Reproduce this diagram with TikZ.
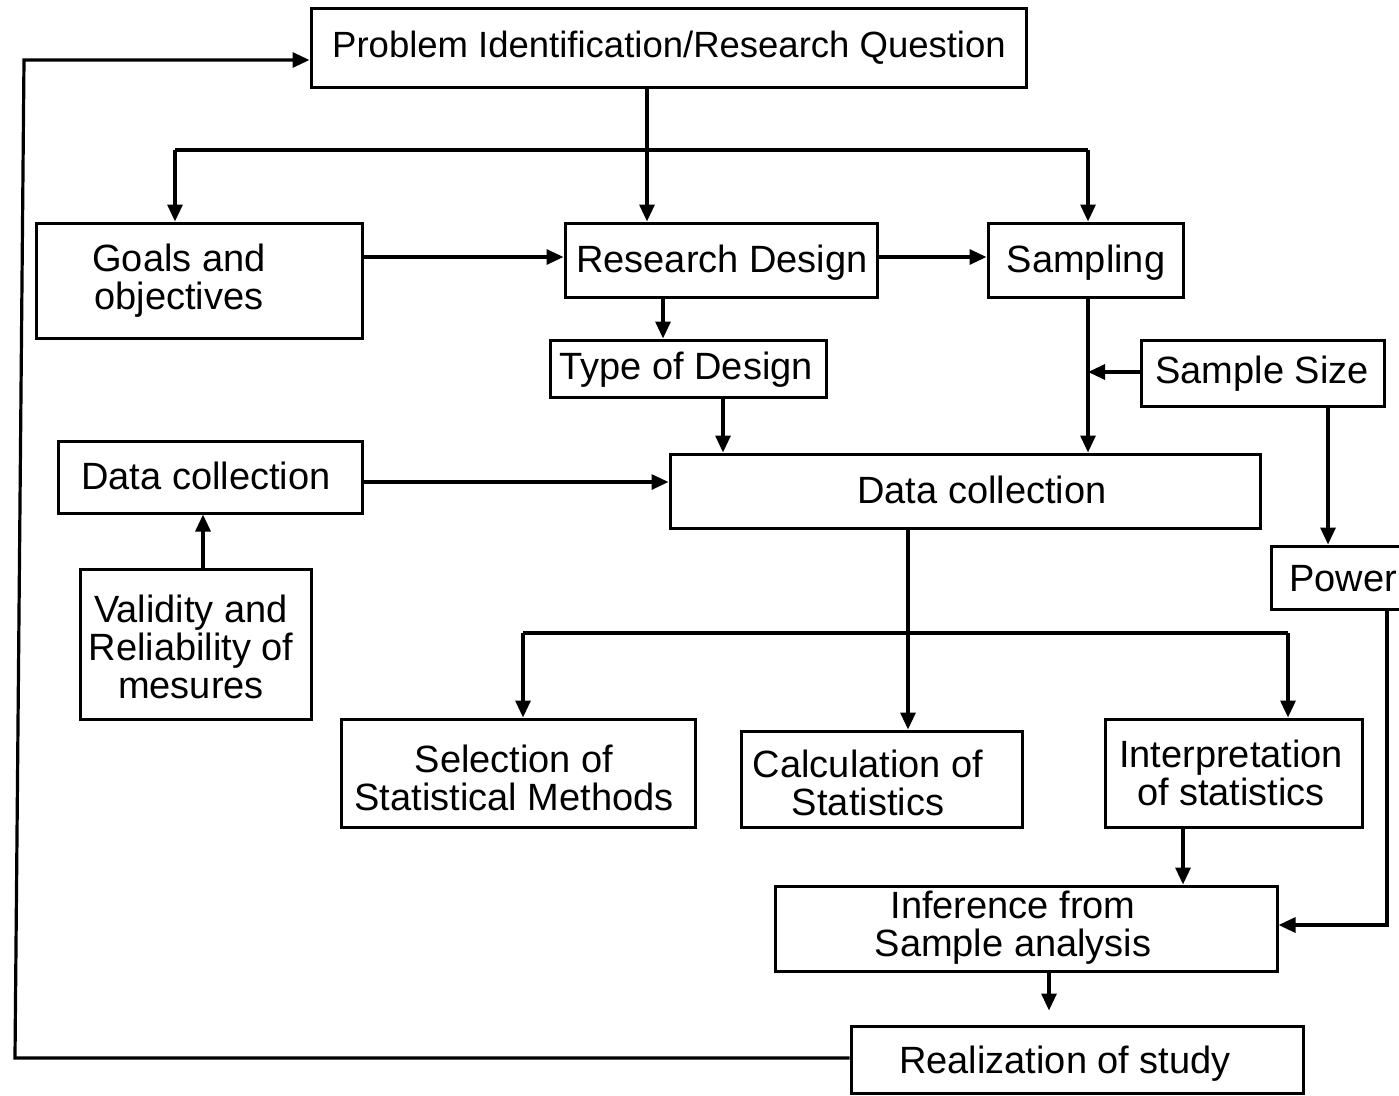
\documentclass[tikz,border=0pt]{standalone}
\usepackage{fontspec}
\setmainfont{Liberation Sans}
\usetikzlibrary{arrows.meta,fit}
\begin{document}
\begin{tikzpicture}[x=1pt,y=-1pt,
  box/.style={draw, line width=3pt, inner sep=0pt},
  txt/.style={font=\fontsize{38}{38}\selectfont, align=center, inner sep=0pt},
  one/.style={txt, text height=27pt, text depth=8pt},
  conn/.style={line width=3.2pt, -{Triangle[length=17pt,width=15pt]}},
  ln/.style={line width=3.2pt}]
\useasboundingbox (0,0) rectangle (1399,1095);
\fill[white] (0,0) rectangle (1399,1095);
% boxes
\node[box, fit={(311,8) (1026,87)}] (prob) {};
\node[box, fit={(36,223) (362,338)}] (goals) {};
\node[box, fit={(565,223) (877,297)}] (rd) {};
\node[box, fit={(988,223) (1183,297)}] (samp) {};
\node[box, fit={(550,340) (826,397)}] (tod) {};
\node[box, fit={(1141,340) (1384,406)}] (ss) {};
\node[box, fit={(58,441) (362,513)}] (dcl) {};
\node[box, fit={(670,454) (1260,528)}] (dcm) {};
\node[box, fit={(1271,546) (1420,609)}] (pow) {};
\node[box, fit={(80,569) (311,719)}] (val) {};
\node[box, fit={(341,719) (695,827)}] (sel) {};
\node[box, fit={(741,731) (1022,827)}] (calc) {};
\node[box, fit={(1105,719) (1362,827)}] (interp) {};
\node[box, fit={(775,886) (1277,971)}] (inf) {};
\node[box, fit={(851,1026) (1303,1093)}] (real) {};
% texts
\node[one, font=\fontsize{36.5}{38}\selectfont] (probT) at (669,48) {Problem Identification/Research Question};
\node[txt] (goalsT) at (179,281) {Goals and\\objectives};
\node[one] (rdT) at (722,263) {Research Design};
\node[one] (sampT) at (1086,263) {Sampling};
\node[one] (todT) at (686,370) {Type of Design};
\node[one] (ssT) at (1262,374) {Sample Size};
\node[one] (dclT) at (206,480) {Data collection};
\node[one] (dcmT) at (982,494) {Data collection};
\node[one] (powT) at (1343,582) {Power};
\node[txt] (valT) at (191,647) {Validity and\\Reliability of\\mesures};
\node[txt] (selT) at (514,778) {Selection of\\Statistical Methods};
\node[txt] (calcT) at (868,783) {Calculation of\\Statistics};
\node[txt] (interpT) at (1231,773) {Interpretation\\of statistics};
\node[txt] (infT) at (1013,928) {Inference from\\Sample analysis};
\node[one] (realT) at (1065,1064) {Realization of study};
% helper coordinates
\coordinate (split) at (647,150);
\coordinate (sL) at (175,150);
\coordinate (sR) at (1088,150);
\coordinate (r1) at (0,257);
\coordinate (c663) at (663,0);
\coordinate (c723) at (723,0);
\coordinate (r372) at (0,372);
\coordinate (c1328) at (1328,0);
\coordinate (c1387) at (1387,0);
\coordinate (r925) at (0,925);
\coordinate (r482) at (0,482);
\coordinate (c203) at (203,0);
\coordinate (c908) at (908,0);
\coordinate (bL) at (523,633);
\coordinate (bR) at (1288,633);
\coordinate (c1183) at (1183,0);
\coordinate (c1049) at (1049,0);
\coordinate (loopB) at (15,1058);
\coordinate (loopT) at (24,60);
% connectors
\draw[ln] (prob.south -| split) -- (split);
\draw[ln] (sL) -- (sR);
\draw[conn] (sL) -- (sL |- goals.north);
\draw[conn] (split) -- (split |- rd.north);
\draw[conn] (sR) -- (sR |- samp.north);
\draw[conn] (goals.east |- r1) -- (rd.west |- r1);
\draw[conn] (rd.east |- r1) -- (samp.west |- r1);
\draw[conn] (rd.south -| c663) -- (tod.north -| c663);
\draw[conn] (tod.south -| c723) -- (dcm.north -| c723);
\draw[conn] (samp.south -| sR) -- (dcm.north -| sR);
\draw[conn] (ss.west |- r372) -- (sR |- r372);
\draw[conn] (ss.south -| c1328) -- (pow.north -| c1328);
\draw[conn] (pow.south -| c1387) -- (c1387 |- r925) -- (inf.east |- r925);
\draw[conn] (dcl.east |- r482) -- (dcm.west |- r482);
\draw[conn] (val.north -| c203) -- (dcl.south -| c203);
\draw[conn] (dcm.south -| c908) -- (calc.north -| c908);
\draw[ln] (bL) -- (bR);
\draw[conn] (bL) -- (bL |- sel.north);
\draw[conn] (bR) -- (bR |- interp.north);
\draw[conn] (interp.south -| c1183) -- (inf.north -| c1183);
\draw[conn, shorten >=14pt] (inf.south -| c1049) -- (real.north -| c1049);
\draw[conn] (real.west |- loopB) -- (loopB) -- (loopT) -- (prob.west |- loopT);
\end{tikzpicture}
\end{document}
